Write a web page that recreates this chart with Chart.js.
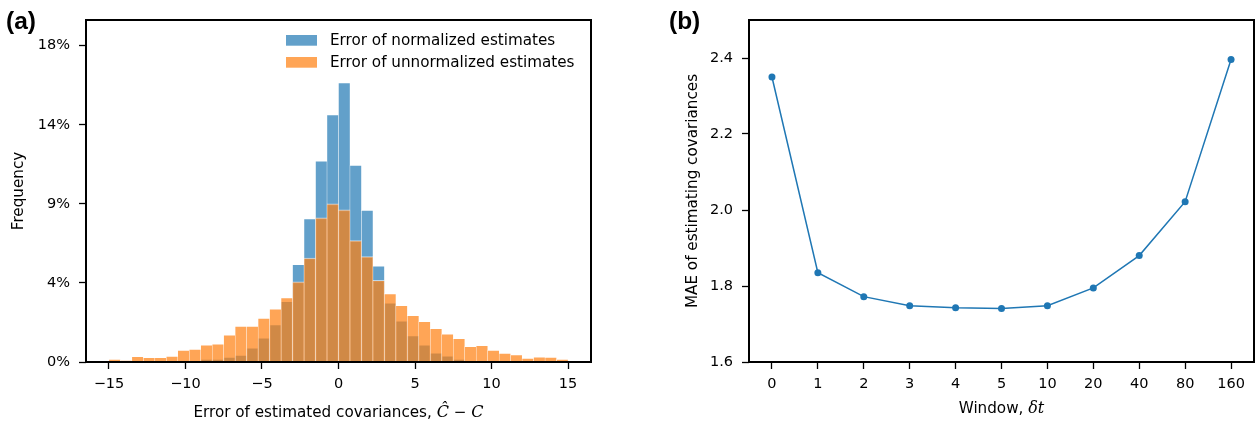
<!DOCTYPE html>
<html>
<head>
<meta charset="utf-8">
<script src="https://cdn.jsdelivr.net/npm/chart.js@4.4.0/dist/chart.umd.min.js"></script>
<style>
  html, body { margin: 0; padding: 0; background: #fff; }
  #wrap { position: relative; width: 1258px; height: 425px; }
  canvas { position: absolute; top: 0; }
  #histo { left: 0; }
  #window { left: 630px; }
</style>
</head>
<body>
<div id="wrap">
  <canvas id="histo" width="630" height="425"></canvas>
  <canvas id="window" width="628" height="425"></canvas>
</div>
<script>
// (a) error histogram, 40 bins of width 0.75 between -15 and 15, in percent
const binStart = -15;
const binWidth = 0.75;
const normalizedPct = [
  0, 0, 0, 0, 0, 0, 0, 0.06, 0.17, 0.17,
  0.28, 0.40, 0.80, 1.37, 2.13, 3.45, 5.56, 8.16, 11.45, 14.08,
  15.90, 11.20, 8.64, 5.47, 3.36, 2.34, 1.50, 0.98, 0.52, 0.35,
  0.17, 0.06, 0.02, 0, 0, 0, 0, 0, 0, 0
];
const unnormalizedPct = [
  0.17, 0.09, 0.32, 0.27, 0.27, 0.34, 0.68, 0.74, 0.97, 1.04,
  1.54, 2.05, 2.05, 2.50, 3.02, 3.66, 4.56, 5.92, 8.20, 9.00,
  8.66, 6.91, 6.00, 4.65, 3.89, 3.23, 2.66, 2.32, 1.92, 1.61,
  1.35, 0.89, 0.95, 0.68, 0.51, 0.42, 0.23, 0.30, 0.28, 0.17
];
const errTicks = [-15, -10, -5, 0, 5, 10, 15];
const freqTicks = [0, 4.5, 9, 13.5, 18];
const freqTickLabels = ['0%', '4%', '9%', '14%', '18%'];

// (b) MAE for each window size
const windows = ['0', '1', '2', '3', '4', '5', '10', '20', '40', '80', '160'];
const maeValues = [2.350, 1.835, 1.772, 1.748, 1.743, 1.741, 1.748, 1.795, 1.880, 2.022, 2.396];
const maeTicks = [1.6, 1.8, 2.0, 2.2, 2.4];

const binCenters = normalizedPct.map((_, i) => binStart + binWidth * (i + 0.5));

const TICK_FONT = { family: 'DejaVu Sans', size: 14.5 };
const LABEL = '15.2px "DejaVu Sans"';
const MATH = 'italic 16px "DejaVu Serif"';
const PANEL = 'bold 24.5px "Liberation Sans", Arial, sans-serif';

Chart.defaults.color = '#000';

function fmtSigned(v) {
  return v < 0 ? '\u2212' + Math.abs(v) : String(v);
}

// text made of runs in different fonts, centred on cx
function drawRun(ctx, parts, cx, y) {
  let total = 0;
  parts.forEach(p => { ctx.font = p[1]; total += ctx.measureText(p[0]).width; });
  let x = cx - total / 2;
  ctx.textAlign = 'left';
  ctx.textBaseline = 'alphabetic';
  parts.forEach(p => {
    ctx.font = p[1];
    ctx.fillText(p[0], x, y);
    x += ctx.measureText(p[0]).width;
  });
}

function decor(cfg) {
  return {
    id: 'decor',
    afterDatasetsDraw(chart) {
      const { ctx, chartArea: a } = chart;
      ctx.save();
      ctx.strokeStyle = '#000';
      ctx.lineWidth = 2;
      ctx.strokeRect(a.left, a.top, a.right - a.left, a.bottom - a.top);
      ctx.restore();
    },
    afterDraw(chart) {
      const { ctx, chartArea: a } = chart;
      ctx.save();
      ctx.fillStyle = '#000';
      drawRun(ctx, cfg.xTitle, (a.left + a.right) / 2, cfg.xTitleY);

      ctx.save();
      ctx.translate(cfg.yTitleX, (a.top + a.bottom) / 2);
      ctx.rotate(-Math.PI / 2);
      drawRun(ctx, [[cfg.yTitle, LABEL]], 0, 0);
      ctx.restore();

      ctx.font = PANEL;
      ctx.textAlign = 'left';
      ctx.fillText(cfg.panel, cfg.panelX, 28.5);

      if (cfg.legend) {
        ctx.font = LABEL;
        ctx.textBaseline = 'middle';
        chart.data.datasets.forEach((ds, i) => {
          const top = 35 + i * 22;
          ctx.fillStyle = ds.backgroundColor;
          ctx.fillRect(286, top, 31, 10.7);
          ctx.fillStyle = '#000';
          ctx.fillText(ds.label, 330, top + 6);
        });
      }
      ctx.restore();
    }
  };
}

function tickGrid() {
  return { display: true, drawOnChartArea: false, offset: false, tickLength: 7, tickWidth: 1.3, tickColor: '#000' };
}

new Chart(document.getElementById('histo'), {
  type: 'bar',
  data: {
    datasets: [
      {
        label: 'Error of normalized estimates',
        data: binCenters.map((x, i) => ({ x: x, y: normalizedPct[i] })),
        backgroundColor: 'rgba(31,119,180,0.7)',
        borderColor: 'rgba(255,255,255,0.6)',
        borderWidth: { top: 1, left: 0.5, right: 0.5, bottom: 0 },
        order: 2
      },
      {
        label: 'Error of unnormalized estimates',
        data: binCenters.map((x, i) => ({ x: x, y: unnormalizedPct[i] })),
        backgroundColor: 'rgba(255,127,14,0.7)',
        borderColor: 'rgba(255,255,255,0.6)',
        borderWidth: { top: 1, left: 0.5, right: 0.5, bottom: 0 },
        order: 1
      }
    ]
  },
  options: {
    responsive: false,
    animation: false,
    layout: { padding: { top: 20, right: 39, left: 0, bottom: 0 } },
    datasets: { bar: { grouped: false, barPercentage: 1, categoryPercentage: 1, borderSkipped: 'start' } },
    plugins: { legend: { display: false }, tooltip: { enabled: false } },
    scales: {
      x: {
        type: 'linear', min: -16.5, max: 16.5, offset: false,
        grid: tickGrid(),
        border: { display: false },
        afterBuildTicks: s => { s.ticks = errTicks.map(v => ({ value: v })); },
        afterFit: s => { s.height = 63; },
        ticks: { padding: 7, font: TICK_FONT, maxRotation: 0, autoSkip: false, callback: v => fmtSigned(v) }
      },
      y: {
        min: 0, max: 19.46,
        grid: tickGrid(),
        border: { display: false },
        afterBuildTicks: s => { s.ticks = freqTicks.map(v => ({ value: v })); },
        afterFit: s => { s.width = 86; },
        ticks: { padding: 9, font: TICK_FONT, autoSkip: false, callback: (v, i) => freqTickLabels[i] }
      }
    }
  },
  plugins: [decor({
    panel: '(a)', panelX: 6,
    xTitle: [['Error of estimated covariances, ', LABEL], ['\u0108', MATH], [' \u2212 ', '15.2px "DejaVu Serif"'], ['C', MATH]],
    xTitleY: 416.5,
    yTitle: 'Frequency', yTitleX: 23.3,
    legend: true
  })]
});

new Chart(document.getElementById('window'), {
  type: 'line',
  data: {
    labels: windows,
    datasets: [{
      data: maeValues,
      borderColor: '#1f77b4',
      backgroundColor: '#1f77b4',
      borderWidth: 1.5,
      pointRadius: 3.5,
      pointBorderWidth: 0,
      pointBackgroundColor: '#1f77b4',
      tension: 0
    }]
  },
  options: {
    responsive: false,
    animation: false,
    layout: { padding: { top: 20, right: 3, left: 0, bottom: 0 } },
    plugins: { legend: { display: false }, tooltip: { enabled: false } },
    scales: {
      x: {
        type: 'category', offset: true,
        grid: tickGrid(),
        border: { display: false },
        afterFit: s => { s.height = 63; },
        ticks: { padding: 7, font: TICK_FONT, maxRotation: 0, autoSkip: false }
      },
      y: {
        min: 1.6, max: 2.5,
        grid: tickGrid(),
        border: { display: false },
        afterBuildTicks: s => { s.ticks = maeTicks.map(v => ({ value: v })); },
        afterFit: s => { s.width = 119; },
        ticks: { padding: 9, font: TICK_FONT, autoSkip: false, callback: v => v.toFixed(1) }
      }
    }
  },
  plugins: [decor({
    panel: '(b)', panelX: 39,
    xTitle: [['Window, ', LABEL], ['\u03b4t', MATH]],
    xTitleY: 413.3,
    yTitle: 'MAE of estimating covariances', yTitleX: 67.3,
    legend: false
  })]
});
</script>
</body>
</html>
